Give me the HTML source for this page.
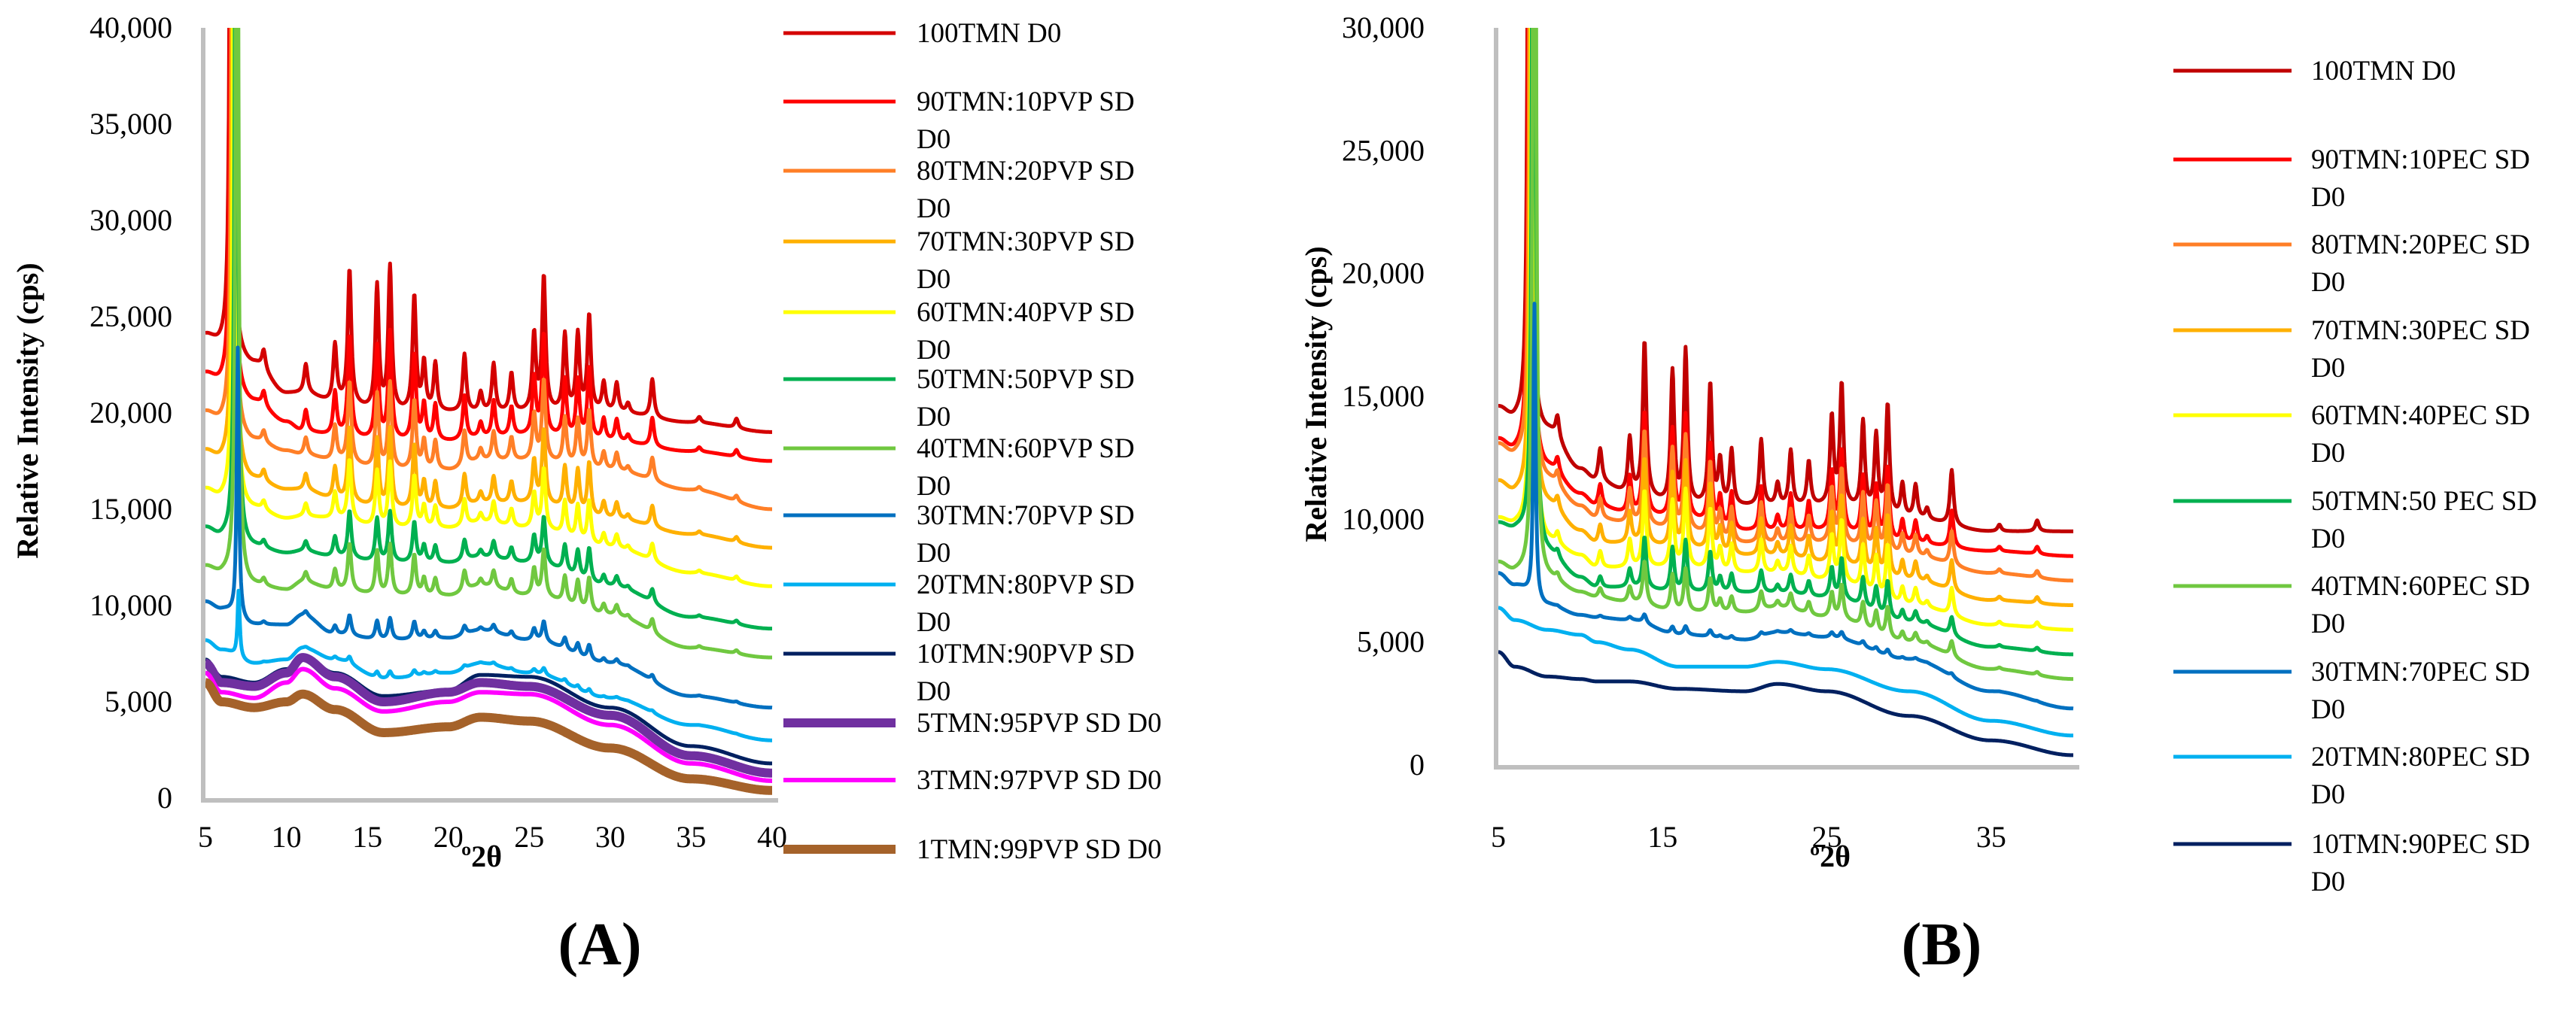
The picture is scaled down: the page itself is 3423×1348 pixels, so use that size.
<!DOCTYPE html>
<html><head><meta charset="utf-8">
<style>
html,body{margin:0;padding:0;background:#fff;}
svg{display:block;font-family:"Liberation Serif",serif;}
</style></head>
<body>
<svg id="fig" width="3423" height="1348" viewBox="0 0 3423 1348" xmlns="http://www.w3.org/2000/svg">
<defs>
<clipPath id="clipA"><rect x="273" y="37" width="760" height="1030"/></clipPath>
<clipPath id="clipB"><rect x="1991" y="37" width="770" height="990"/></clipPath>
</defs>
<g id="panelA"></g>
<g id="panelB"></g>
</svg>
<script>
// ---- shared data ----
const knotX = [5, 6, 8, 10, 11, 13, 16, 20, 22, 25, 30, 35, 40];
const peakPos = [8.6, 11.2, 13.0, 13.9, 15.6, 16.4, 17.9, 18.5, 19.2, 21.0, 22.0, 22.8, 23.9, 25.3, 25.9, 27.2, 28.0, 28.7, 29.6, 30.4, 31.1, 32.6, 35.5, 37.8];
const peakHA = [1000, 1500, 3000, 7000, 6500, 7500, 6000, 2500, 2500, 3000, 1000, 2500, 2000, 4000, 7000, 4000, 4000, 5000, 1500, 1500, 500, 2000, 300, 500];
const peakHB = [1000, 1500, 2500, 7000, 6000, 7000, 5500, 2000, 2500, 3000, 1000, 2500, 2000, 4000, 5500, 4000, 3500, 5000, 1500, 1500, 500, 2500, 300, 500];

// ---- panel A data ----
const namesA = ["100TMN D0","90TMN:10PVP SD D0","80TMN:20PVP SD D0","70TMN:30PVP SD D0","60TMN:40PVP SD D0","50TMN:50PVP SD D0","40TMN:60PVP SD D0","30TMN:70PVP SD D0","20TMN:80PVP SD D0","10TMN:90PVP SD D0","5TMN:95PVP SD D0","3TMN:97PVP SD D0","1TMN:99PVP SD D0"];
const baseA = [
[24000,23500,22500,21000,21000,20500,20000,20000,20000,20000,20000,19500,19000],
[22000,21500,20500,19500,19000,18800,18500,18500,18700,18800,18500,18000,17500],
[20000,19500,18500,18000,17800,17500,17000,17000,17500,17500,17000,16000,15000],
[18000,17500,16500,16000,16000,15500,15000,15000,15300,15300,14500,13700,13000],
[16000,15500,15000,14500,14600,14500,14000,14000,14300,14000,13000,11700,11000],
[14000,13500,13000,12700,12800,12500,12200,12200,12500,12200,11000,9400,8800],
[12000,11600,11000,10800,11200,10800,10500,10500,11000,10500,9500,7800,7300],
[10200,9800,9000,9000,9500,8500,8200,8300,8700,8200,7000,5300,4700],
[8200,7700,7000,7200,7800,7200,6200,6500,7000,6500,5200,3800,3000],
[7200,6300,6000,6700,7400,6500,5300,5600,6400,6300,4700,2700,1800],
[7000,6000,5800,6500,7300,6300,5000,5500,6000,5800,4300,2200,1300],
[6500,5500,5200,6000,6700,5700,4500,5000,5500,5400,3800,1800,900],
[6000,5000,4700,5000,5400,4600,3400,3700,4200,4000,2600,1000,400]];
const scaleA = [1, 0.75, 0.6, 0.55, 0.45, 0.35, 0.35, 0.15, 0.05, 0, 0, 0, 0];
const mainPosA = [6.6, 6.65, 6.7, 6.75, 6.8, 6.9, 6.95, 7.0, 7.05, 7.0, 7.0, 7.0, 7.0];
const mainHA = [60000, 60000, 60000, 60000, 60000, 60000, 60000, 14000, 3500, 0, 0, 0, 0];
const colorsA = ["#d40000","#ff0000","#ff7f27","#ffb000","#ffff00","#00b050","#70c840","#0070c0","#00b0f0","#002060","#7030a0","#ff00ff","#a5622a"];
const widthA = [5,5,5,5,5,5,5,5,5,5,12,6,12];
const yTicksA = [0,5000,10000,15000,20000,25000,30000,35000,40000];
const xTicksA = [5,10,15,20,25,30,35,40];

// ---- panel B data ----
const namesB = ["100TMN D0","90TMN:10PEC SD D0","80TMN:20PEC SD D0","70TMN:30PEC SD D0","60TMN:40PEC SD D0","50TMN:50 PEC SD D0","40TMN:60PEC SD D0","30TMN:70PEC SD D0","20TMN:80PEC SD D0","10TMN:90PEC SD D0"];
const baseB = [
[14500,14000,13500,12000,11500,11000,10500,10500,10500,10500,10000,9500,9500],
[13200,12700,12000,11000,10500,10200,10000,9500,9500,9500,9000,8700,8500],
[13000,12500,11500,10500,10000,9800,9500,9000,9000,9000,8500,7800,7500],
[11500,11000,10500,9500,9000,9000,8800,8500,8500,8200,7500,6700,6500],
[10000,9700,9000,8500,8000,8000,8000,7800,7800,7500,6500,5700,5500],
[9800,9500,8500,7600,7200,7200,7000,7000,7000,6800,5800,4800,4500],
[8200,7800,7500,7000,6800,6600,6200,6200,6400,6000,5000,3900,3500],
[7800,7300,6500,6100,6000,5900,5300,5100,5400,5200,4300,3000,2300],
[6400,5900,5500,5300,5000,4700,4000,4000,4200,3900,3000,1800,1200],
[4600,4000,3600,3500,3400,3400,3100,3000,3300,3000,2000,1000,400]];
const scaleB = [0.9, 0.6, 0.55, 0.5, 0.45, 0.3, 0.25, 0.05, 0, 0];
const mainPosB = [6.9, 6.95, 7.0, 7.05, 7.1, 7.15, 7.2, 7.2, 7.2, 7.2];
const mainHB = [60000, 60000, 60000, 60000, 60000, 60000, 60000, 12000, 0, 0];
const colorsB = ["#c00000","#ff0000","#ff7f27","#ffb000","#ffff00","#00b050","#70c840","#0070c0","#00b0f0","#002060"];
const yTicksB = [0,5000,10000,15000,20000,25000,30000];
const xTicksB = [5,15,25,35];

const NS = "http://www.w3.org/2000/svg";
function mk(tag, attrs, parent){const e=document.createElementNS(NS,tag);for(const k in attrs)e.setAttribute(k,attrs[k]);parent.appendChild(e);return e;}
function interp(xs, ys, x){
  if(x<=xs[0])return ys[0];
  for(let i=0;i<xs.length-1;i++){
    if(x<=xs[i+1]){const t=(x-xs[i])/(xs[i+1]-xs[i]);const s=(1-Math.cos(Math.PI*t))/2;return ys[i]+(ys[i+1]-ys[i])*s;}
  }
  return ys[ys.length-1];
}
function lor(x,c,g){return g*g/((x-c)*(x-c)+g*g);}

function drawPanel(cfg){
  const g=document.getElementById(cfg.id);
  const sx=v=>cfg.x0+(v-5)*(cfg.x1-cfg.x0)/35;
  const sy=v=>cfg.y0-(v/cfg.ymax)*(cfg.y0-cfg.ytop);
  cfg.yTicks.forEach(t=>{
    const tx=mk("text",{x:cfg.labelR,y:sy(t)+13,"text-anchor":"end","font-size":40,fill:"#000"},g);
    
    
    tx.textContent=t.toLocaleString("en-US");
  });
  cfg.xTicks.forEach(t=>{
    const tx=mk("text",{x:sx(t),y:1126,"text-anchor":"middle","font-size":40,fill:"#000"},g);
    
    
    tx.textContent=t;
  });
  const sg=mk("g",{"clip-path":"url(#"+cfg.clip+")"},g);
  
  
  for(let s=0;s<cfg.base.length;s++){
    let d="";
    for(let x=5;x<=40.0001;x+=0.04){
      let v=interp(knotX,cfg.base[s],x);
      for(let p=0;p<peakPos.length;p++)v+=cfg.scale[s]*cfg.peakH[p]*lor(x,peakPos[p],0.13);
      v+=cfg.mainH[s]*lor(x,cfg.mainPos[s],0.08);
      d+=(d?"L":"M")+sx(x).toFixed(1)+","+sy(v).toFixed(1);
    }
    const path=mk("path",{d:d,fill:"none",stroke:cfg.colors[s],"stroke-width":cfg.widths[s],"stroke-linejoin":"round"},sg);
    
    
  }
  const ax=mk("path",{d:`M${cfg.x0-3},${cfg.ytop}V${cfg.y0+3}H${cfg.x1+8}`,fill:"none",stroke:"#bfbfbf","stroke-width":6},g);
  
  
  const yt=mk("text",{x:0,y:0,transform:`translate(${cfg.ytitleX},${cfg.ytitleY}) rotate(-90)`,"text-anchor":"middle","font-size":40,"font-weight":"bold",fill:"#000"},g);
  
  
  yt.textContent="Relative Intensity (cps)";
  const xt=mk("text",{x:cfg.xtitleX,y:1152,"text-anchor":"middle","font-size":40,"font-weight":"bold",fill:"#000"},g);
  
  
  xt.textContent="º2θ";
  const pl=mk("text",{x:cfg.panelX,y:1282,"text-anchor":"middle","font-size":80,"font-weight":"bold",fill:"#000"},g);
  
  
  pl.textContent=cfg.panelLabel;
  for(let s=0;s<cfg.names.length;s++){
    const ly=cfg.legY[s];
    const lg=mk("g",{},g);
    
    
    mk("line",{x1:cfg.legX0,x2:cfg.legX1,y1:ly,y2:ly,stroke:cfg.colors[s],"stroke-width":cfg.widths[s]},lg);
    const full=cfg.names[s];
    const lines=cfg.wrap[s]?[full.slice(0,-3),"D0"]:[full];
    lines.forEach((ln,i)=>{
      const t=mk("text",{x:cfg.legText,y:ly+12+i*50,"font-size":37,fill:"#000"},lg);
      t.textContent=ln;
    });
  }
}

drawPanel({id:"panelA",clip:"clipA",x0:273,x1:1026,y0:1061,ytop:37,ymax:40000,labelR:229,
  yTicks:yTicksA,xTicks:xTicksA,base:baseA,scale:scaleA,peakH:peakHA,mainPos:mainPosA,mainH:mainHA,
  colors:colorsA,widths:widthA,ytitleX:50,ytitleY:546,xtitleX:640,panelX:797,panelLabel:"(A)",
  names:namesA,legY:[44,135,227,321,415,504,596,685,777,869,961,1037,1129],legX0:1041,legX1:1190,legText:1218,
  wrap:[false,true,true,true,true,true,true,true,true,true,false,false,false]});

drawPanel({id:"panelB",clip:"clipB",x0:1991,x1:2755,y0:1017,ytop:37,ymax:30000,labelR:1893,
  yTicks:yTicksB,xTicks:xTicksB,base:baseB,scale:scaleB,peakH:peakHB,mainPos:mainPosB,mainH:mainHB,
  colors:colorsB,widths:[5,5,5,5,5,5,5,5,5,5],ytitleX:1762,ytitleY:524,xtitleX:2432,panelX:2580,panelLabel:"(B)",
  names:namesB,legY:[94,212,325,439,552,666,779,893,1006,1122],legX0:2888,legX1:3045,legText:3071,
  wrap:[false,true,true,true,true,true,true,true,true,true]});
</script>
</body></html>
